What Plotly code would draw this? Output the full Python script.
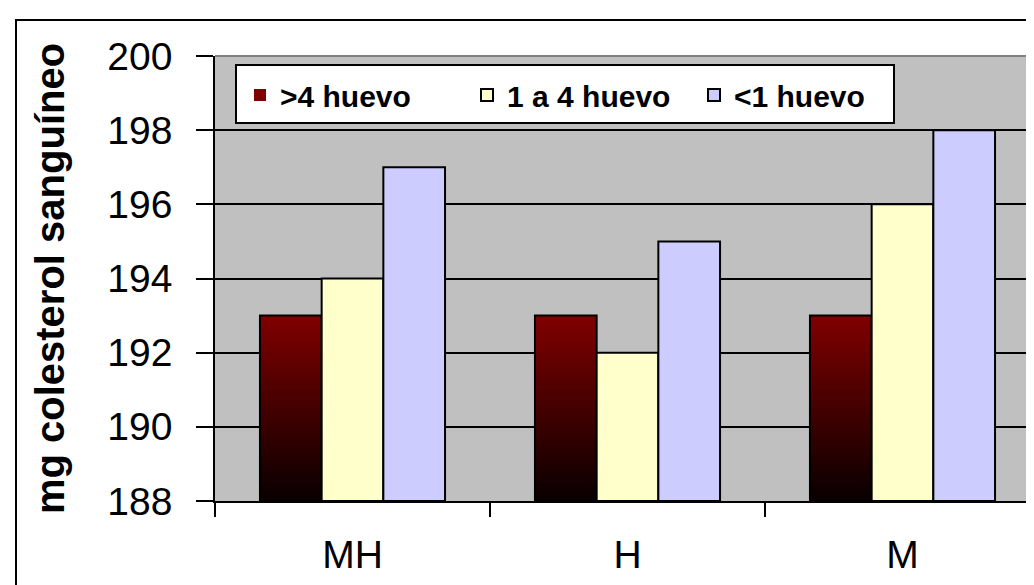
import plotly.graph_objects as go

categories = ["MH", "H", "M"]
series_names = [">4 huevo", "1 a 4 huevo", "<1 huevo"]
mas4 = [193, 193, 193]
de1a4 = [194, 192, 196]
menos1 = [197, 195, 198]

y_min, y_max = 188, 200
FONT = "Liberation Sans, Arial, sans-serif"

fig = go.Figure()

# gradient-filled first series (dark red at top -> black at bottom), drawn as stacked overlays
N = 40
top_rgb = (128, 0, 0)
bot_rgb = (8, 0, 0)
for k in range(N, 0, -1):
    frac = k / N
    t = (k - 0.5) / N
    col = tuple(int(round(bot_rgb[i] + (top_rgb[i] - bot_rgb[i]) * t)) for i in range(3))
    fig.add_trace(go.Bar(
        x=categories,
        y=[(v - y_min) * frac for v in mas4],
        base=y_min,
        offsetgroup="a",
        name=series_names[0],
        showlegend=(k == N),
        marker=dict(color="rgb(%d,%d,%d)" % col, line=dict(width=0)),
        hoverinfo="skip",
    ))
fig.add_trace(go.Bar(
    x=categories, y=[v - y_min for v in mas4], base=y_min, offsetgroup="a",
    showlegend=False, marker=dict(color="rgba(0,0,0,0)", line=dict(color="black", width=2)),
))
fig.add_trace(go.Bar(
    x=categories, y=[v - y_min for v in de1a4], base=y_min, offsetgroup="b",
    name=series_names[1],
    marker=dict(color="#FFFFCC", line=dict(color="black", width=2)),
))
fig.add_trace(go.Bar(
    x=categories, y=[v - y_min for v in menos1], base=y_min, offsetgroup="c",
    name=series_names[2],
    marker=dict(color="#CCCCFF", line=dict(color="black", width=2)),
))

W, H = 1034, 585
ML, MR, MT, MB = 207, 2, 48, 92
PW, PH = W - ML - MR, H - MT - MB


def px(xpix):
    return (xpix - ML) / PW


def py(ypix):
    return 1 - (ypix - MT) / PH


fig.update_layout(
    width=W, height=H,
    margin=dict(l=ML, r=MR, t=MT, b=MB),
    paper_bgcolor="white",
    plot_bgcolor="#C0C0C0",
    barmode="group",
    bargap=0.327,
    bargroupgap=0,
    font=dict(family=FONT, color="black"),
    showlegend=True,
    legend=dict(
        orientation="h",
        x=px(232), y=py(87), xanchor="left", yanchor="middle",
        bgcolor="rgba(0,0,0,0)", borderwidth=0,
        font=dict(family=FONT, size=30, color="black", weight="bold"),
        traceorder="normal",
        entrywidth=182,
        itemclick=False,
    ),
    xaxis=dict(
        type="category",
        tickson="boundaries",
        ticks="outside", ticklen=14, tickwidth=1.5, tickcolor="black",
        showline=True, linecolor="black", linewidth=1.5,
        showgrid=False,
        tickfont=dict(family=FONT, size=39, color="black"),
        ticklabelstandoff=18,
    ),
    yaxis=dict(
        range=[y_min, y_max],
        dtick=2, tick0=188,
        ticks="outside", ticklen=17, tickwidth=1.5, tickcolor="black",
        showline=True, linecolor="black", linewidth=1.5,
        showgrid=True, gridcolor="black", gridwidth=1.5,
        zeroline=False,
        tickfont=dict(family=FONT, size=39, color="black"),
        ticklabelstandoff=16,
        title=dict(text="mg colesterol sanguíneo",
                   font=dict(family=FONT, size=40, color="black", weight="bold"),
                   standoff=30),
    ),
    shapes=[
        dict(type="rect", xref="paper", yref="paper", x0=px(8), x1=px(1045), y0=py(600), y1=py(12),
             line=dict(color="black", width=2), layer="below"),
        dict(type="line", xref="paper", yref="paper", x0=0, x1=1, y0=1, y1=1,
             line=dict(color="#808080", width=2)),
        dict(type="line", xref="paper", yref="paper", x0=1, x1=1, y0=0, y1=1,
             line=dict(color="#808080", width=2)),
        dict(type="rect", xref="paper", yref="paper", x0=px(228), x1=px(886), y0=py(115), y1=py(57),
             fillcolor="white", line=dict(color="black", width=2), layer="above"),
    ],
)

fig.write_html("out.html")
